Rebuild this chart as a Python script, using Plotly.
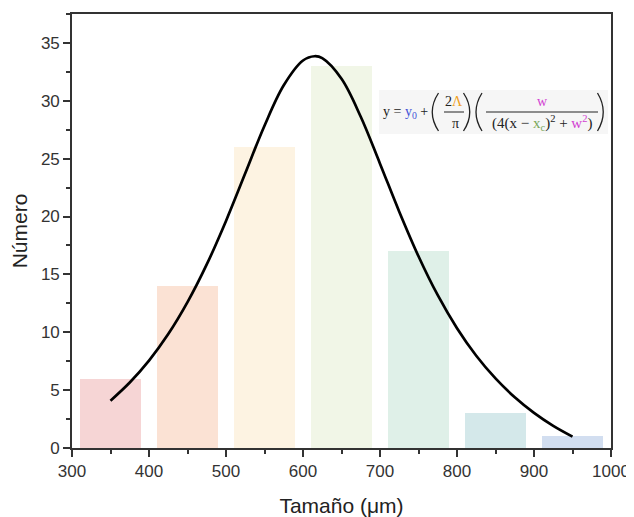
import plotly.graph_objects as go

# ---- data ----
bin_centers = [350, 450, 550, 650, 750, 850, 950]
counts = [6, 14, 26, 33, 17, 3, 1]
bar_colors = ["#f6d5d5", "#fbe2d4", "#fdf3e2", "#f1f6e7", "#dff0e8", "#d4e8ea", "#d2def0"]

fit_x = [350, 375, 400, 425, 450, 475, 500, 525, 550, 575, 600, 615, 625, 650, 675,
         700, 725, 750, 775, 800, 825, 850, 875, 900, 925, 950]
fit_y = [4.09, 5.66, 7.55, 9.84, 12.6, 15.86, 19.62, 23.73, 27.85, 31.34, 33.48, 33.85,
         33.68, 31.9, 28.62, 24.57, 20.42, 16.57, 13.2, 10.35, 7.97, 6.01, 4.38, 3.03,
         1.91, 0.98]

x_ticks = [300, 400, 500, 600, 700, 800, 900, 1000]
y_ticks = [0, 5, 10, 15, 20, 25, 30, 35]

fig = go.Figure()
fig.add_trace(go.Bar(x=bin_centers, y=counts, width=80,
                     marker=dict(color=bar_colors, line=dict(width=0)),
                     showlegend=False))
fig.add_trace(go.Scatter(x=fit_x, y=fit_y, mode="lines",
                         line=dict(color="black", width=2.7, shape="spline", smoothing=1.0),
                         showlegend=False))

# page-pixel -> data helpers for placing the equation (plot area 72..611 x 14..448)
def X(px):
    return 300 + (px - 72.0) / (539.0 / 700.0)

def Y(py):
    return (448.0 - py) / (434.0 / 37.5)

SERIF = "Liberation Serif"
BLUE = "#3f51d6"
ORANGE = "#f0a020"
MAG = "#d23fd2"
GREEN = "#7aa85a"

ann = []
def txt(px, py, text, size=14, xanchor="center"):
    ann.append(dict(x=X(px), y=Y(py), xref="x", yref="y", text=text, showarrow=False,
                    xanchor=xanchor, yanchor="middle",
                    font=dict(family=SERIF, size=size, color="#222")))

txt(381, 112, "y = <span style='color:%s'>y<sub>0</sub></span> +" % BLUE, xanchor="left")
txt(454, 101, "2<span style='color:%s'>Λ</span>" % ORANGE)
txt(455, 123, "π")
txt(542, 101, "<span style='color:%s'>w</span>" % MAG)
txt(542, 123, "(4(x − <span style='color:%s'>x<sub>c</sub></span>)<sup>2</sup> + "
              "<span style='color:%s'>w<sup>2</sup></span>)" % (GREEN, MAG), size=15)

def paren(x_end, x_ctrl, top=93, bot=131):
    return dict(type="path", xref="x", yref="y",
                path="M %f,%f Q %f,%f %f,%f" % (X(x_end), Y(top), X(x_ctrl), Y((top + bot) / 2),
                                                X(x_end), Y(bot)),
                line=dict(color="#222", width=1.3))

shapes = [
    dict(type="rect", xref="x", yref="y", x0=X(379), x1=X(608), y0=Y(134), y1=Y(90),
         fillcolor="#f6f6f6", line=dict(width=0), layer="below"),
    dict(type="line", xref="x", yref="y", x0=X(444), x1=X(464), y0=Y(112), y1=Y(112),
         line=dict(color="#222", width=1)),
    dict(type="line", xref="x", yref="y", x0=X(486), x1=X(598), y0=Y(112), y1=Y(112),
         line=dict(color="#222", width=1)),
    paren(438.5, 426),
    paren(463.5, 476),
    paren(482, 470),
    paren(597.5, 609),
]

axis_common = dict(showgrid=False, zeroline=False, showline=True, linecolor="#333",
                   linewidth=1.6, mirror=True, ticks="outside", ticklen=7, tickwidth=1.5,
                   tickcolor="#333", automargin=False,
                   tickfont=dict(family="Liberation Sans", size=17, color="#333"))

# page body has an 8px margin, so the figure is sized/margined to compensate
fig.update_layout(
    width=626, height=509,
    margin=dict(l=64, r=23, t=6, b=69),
    paper_bgcolor="white", plot_bgcolor="white",
    bargap=0,
    annotations=ann, shapes=shapes,
    xaxis=dict(range=[300, 1000], tickvals=x_ticks,
               minor=dict(dtick=50, tick0=300, ticks="outside", ticklen=4, tickwidth=1.5, tickcolor="#333"),
               title=dict(text="Tamaño (μm)", font=dict(family="Liberation Sans", size=21, color="#222"), standoff=18),
               **axis_common),
    yaxis=dict(range=[0, 37.5], tickvals=y_ticks,
               minor=dict(dtick=2.5, tick0=0, ticks="outside", ticklen=4, tickwidth=1.5, tickcolor="#333"),
               title=dict(text="Número", font=dict(family="Liberation Sans", size=21, color="#222"), standoff=8),
               **axis_common),
)

fig.write_html("out.html")
